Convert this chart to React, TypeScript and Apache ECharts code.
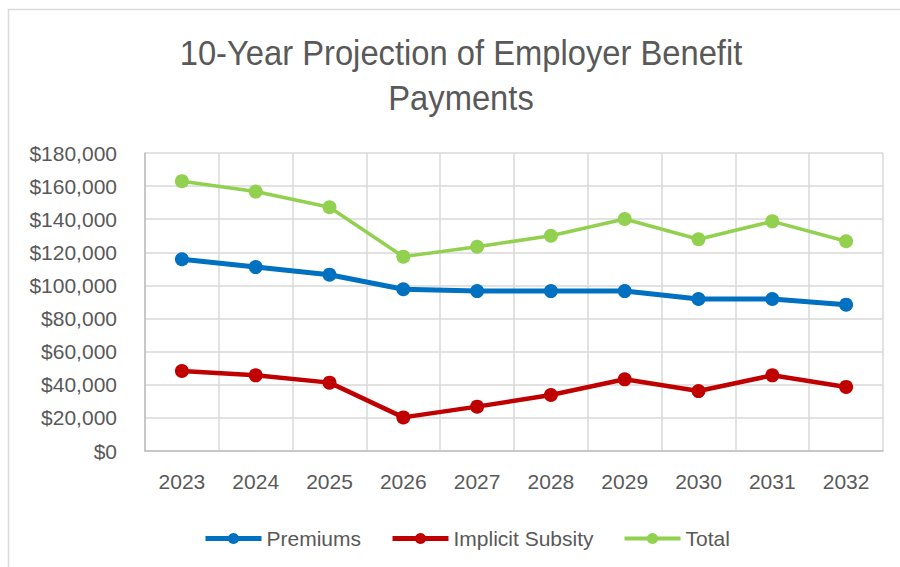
import React, { useEffect, useRef } from "react";
import * as echarts from "echarts";

const years = ["2023", "2024", "2025", "2026", "2027", "2028", "2029", "2030", "2031", "2032"];
const premiums = [115800, 111100, 106500, 97700, 96600, 96600, 96600, 91800, 91800, 88400];
const implicitSubsity = [48300, 45700, 41300, 20300, 26800, 33800, 43300, 36200, 45700, 38700];
const total = [163000, 156700, 147200, 117400, 123400, 130000, 140100, 127900, 138700, 126700];

const FONT = "'Liberation Sans', Arial, sans-serif";
const TXT = "#595959";

export default function App() {
  const ref = useRef<HTMLDivElement>(null);
  useEffect(() => {
    if (!ref.current) return;
    const chart = echarts.init(ref.current, null, { renderer: "svg" });
    chart.setOption({
      animation: false,
      backgroundColor: "#ffffff",
      graphic: [
        {
          type: "rect",
          shape: { x: 8.5, y: 9.5, width: 900, height: 600 },
          style: { fill: "none", stroke: "#d9d9d9", lineWidth: 1.5 },
          silent: true,
        },
        {
          type: "text",
          x: 461,
          y: 75,
          scaleX: 0.935,
          style: {
            text: "10-Year Projection of Employer Benefit\nPayments",
            align: "center",
            verticalAlign: "middle",
            font: `35px ${FONT}`,
            lineHeight: 45,
            fill: TXT,
          },
        },
      ],
      grid: { left: 145, right: 17, top: 153, bottom: 116, containLabel: false },
      legend: {
        left: 198,
        top: 523,
        itemWidth: 56,
        itemHeight: 14,
        itemGap: 29,
        textStyle: { fontSize: 21, color: TXT, fontFamily: FONT },
        lineStyle: { width: 5 },
        data: [
          { name: "Premiums", lineStyle: { width: 5 } },
          { name: "Implicit Subsity", lineStyle: { width: 5 } },
          { name: "Total", lineStyle: { width: 4 } },
        ],
      },
      xAxis: {
        type: "category",
        data: years,
        boundaryGap: true,
        axisLine: { show: true, lineStyle: { color: "#bfbfbf", width: 1.5 } },
        axisTick: { show: false },
        axisLabel: { fontSize: 21, color: TXT, fontFamily: FONT, margin: 20 },
        splitLine: { show: true, lineStyle: { color: "#d9d9d9", width: 1.5 } },
      },
      yAxis: {
        type: "value",
        min: 0,
        max: 180000,
        interval: 20000,
        axisLine: { show: true, lineStyle: { color: "#bfbfbf", width: 1.5 } },
        axisTick: { show: false },
        axisLabel: {
          fontSize: 21,
          color: TXT,
          fontFamily: FONT,
          margin: 28,
          formatter: (v: number) => "$" + v.toLocaleString("en-US"),
        },
        splitLine: { show: true, lineStyle: { color: "#d9d9d9", width: 1.5 } },
      },
      series: [
        {
          name: "Premiums",
          type: "line",
          data: premiums,
          symbol: "circle",
          symbolSize: 14,
          itemStyle: { color: "#0070C0" },
          lineStyle: { color: "#0070C0", width: 5 },
        },
        {
          name: "Implicit Subsity",
          type: "line",
          data: implicitSubsity,
          symbol: "circle",
          symbolSize: 14,
          itemStyle: { color: "#C00000" },
          lineStyle: { color: "#C00000", width: 4.5 },
        },
        {
          name: "Total",
          type: "line",
          data: total,
          symbol: "circle",
          symbolSize: 14,
          itemStyle: { color: "#92D050" },
          lineStyle: { color: "#92D050", width: 3.5 },
        },
      ],
    });
    return () => chart.dispose();
  }, []);
  return (
    <div
      ref={ref}
      style={{ position: "fixed", left: 0, top: 0, width: 900, height: 567 }}
    />
  );
}
